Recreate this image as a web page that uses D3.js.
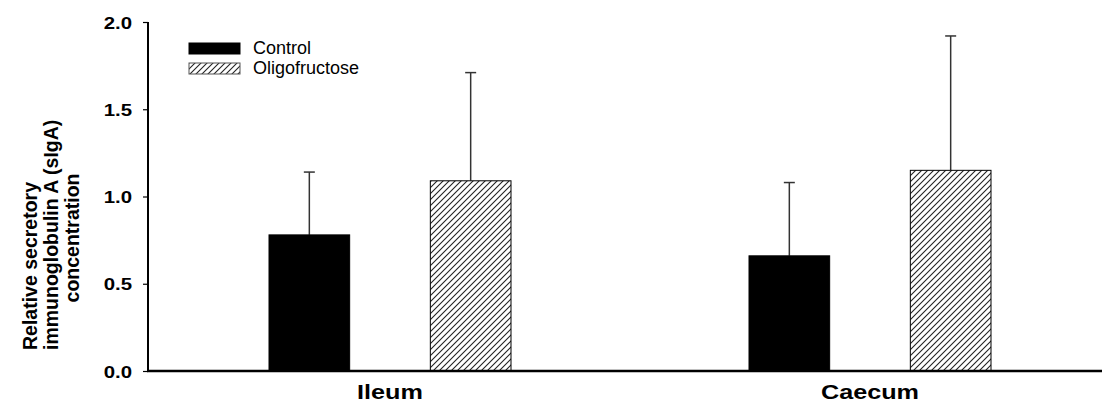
<!DOCTYPE html>
<html><head><meta charset="utf-8">
<script src="https://cdn.jsdelivr.net/npm/d3@7"></script>
<style>body{margin:0;background:#fff}svg{display:block}text{font-family:"Liberation Sans",Arial,sans-serif}</style>
</head><body><svg id="c" width="1102" height="403"></svg>
<script>
const groups = ["Ileum", "Caecum"];
const series = ["Control", "Oligofructose"];
const means = { Control: [0.78, 0.66], Oligofructose: [1.09, 1.15] };
const errors = { Control: [0.36, 0.42], Oligofructose: [0.62, 0.77] };
const yTicks = [0.0, 0.5, 1.0, 1.5, 2.0];
const yTitle = ["Relative secretory", "immunoglobulin A (sIgA)", "concentration"];

const svg = d3.select("#c");
const defs = svg.append("defs");
const pat = defs.append("pattern").attr("id","hatch").attr("patternUnits","userSpaceOnUse")
  .attr("width",6).attr("height",6);
pat.append("rect").attr("width",6).attr("height",6).attr("fill","#fff");
pat.append("path").attr("d","M-1,1 l2,-2 M0,6 l6,-6 M5,7 l2,-2").attr("stroke","#222").attr("stroke-width",1.1);

const x0 = 148, yBase = 371;
const y = d3.scaleLinear().domain([0, 2]).range([yBase, 22]);
const gx = d3.scaleBand().domain(groups).range([150, 1110]).paddingInner(0).paddingOuter(0);
const sx = d3.scaleBand().domain(series).range([0, 242]).paddingInner(0.5).paddingOuter(0);
const fill = { Control: "#000", Oligofructose: "url(#hatch)" };

// bars
groups.forEach((g, gi) => {
  const left = gx(g) + gx.bandwidth()/2 - 121;
  series.forEach(s => {
    const bx = left + sx(s), bw = sx.bandwidth();
    const v = means[s][gi], e = errors[s][gi];
    const cx = bx + bw/2;
    svg.append("line").attr("x1",cx).attr("x2",cx).attr("y1",y(v)).attr("y2",y(v+e))
      .attr("stroke","#333").attr("stroke-width",1.5);
    svg.append("line").attr("x1",cx-5.5).attr("x2",cx+5.5).attr("y1",y(v+e)).attr("y2",y(v+e))
      .attr("stroke","#333").attr("stroke-width",1.5);
    svg.append("rect").attr("x",bx).attr("y",y(v)).attr("width",bw).attr("height",y(0)-y(v))
      .attr("fill",fill[s]).attr("stroke","#000").attr("stroke-width",1);
  });
});

// y axis
const ya = svg.append("g").attr("transform",`translate(${x0},0)`)
  .call(d3.axisLeft(y).tickValues(yTicks).tickFormat(d3.format(".1f")).tickSize(5).tickPadding(11));
ya.select(".domain").attr("stroke","#000").attr("stroke-width",2).attr("d",`M0,${y(2)}V${yBase}`);
ya.selectAll(".tick line").attr("stroke","#000").attr("stroke-width",1.2);
ya.selectAll(".tick text").attr("font-size",17).attr("font-weight","bold").attr("fill","#000")
  .attr("font-family","'Liberation Sans',Arial,sans-serif")
  .attr("transform","scale(1.2,1)").attr("dy","0.36em").attr("x", -16/1.2);

// x axis
svg.append("line").attr("x1",x0-1).attr("x2",1102).attr("y1",yBase).attr("y2",yBase)
  .attr("stroke","#000").attr("stroke-width",2.5);
svg.selectAll(".xlab").data(groups).join("text").attr("class","xlab")
  .attr("transform",d=>`translate(${gx(d)+gx.bandwidth()/2},399) scale(1.2,1)`)
  .attr("text-anchor","middle").attr("font-size",21).attr("font-weight","bold").text(d=>d);

// y title
const tPos = [[37,350,"start"],[58,350,"start"],[79,238,"middle"]];
yTitle.forEach((t,i)=>{
  svg.append("text").attr("transform",`translate(${tPos[i][0]},${tPos[i][1]}) rotate(-90)`)
    .attr("font-size",19.5).attr("font-weight","bold").attr("text-anchor",tPos[i][2]).text(t);
});

// legend
series.forEach((s,i)=>{
  const ly = 43 + i*20;
  svg.append("rect").attr("x",189).attr("y",ly).attr("width",51).attr("height",11)
    .attr("fill",fill[s]).attr("stroke", s==="Control"?"#000":"#555").attr("stroke-width",1);
  svg.append("text").attr("transform",`translate(253,${ly+11})`)
    .attr("font-size",18).text(s);
});
</script></body></html>
